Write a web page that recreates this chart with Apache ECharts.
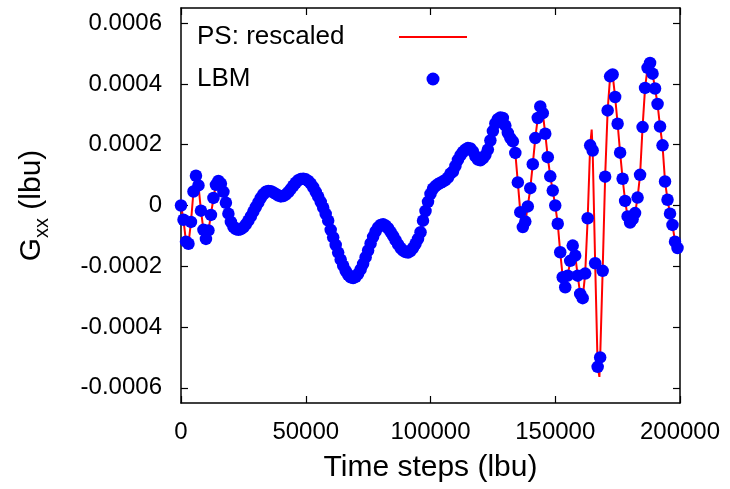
<!DOCTYPE html>
<html>
<head>
<meta charset="utf-8">
<script src="https://cdn.jsdelivr.net/npm/echarts@6/dist/echarts.min.js"></script>
<style>
html,body{margin:0;padding:0;background:#fff;}
#c{width:730px;height:489px;}
</style>
</head>
<body>
<div id="c"></div>
<script>
// LBM samples: one every 1000 time steps, from 0 to 199000; values in units of 1e-4 lbu
const lbmStep = 1000;
const lbmG_e4 = [
  0, -0.47, -1.19, -1.26, -0.54, 0.46, 0.98, 0.66, -0.17, -0.80,
  -1.10, -0.82, -0.31, 0.25, 0.68, 0.81, 0.72, 0.45, 0.09, -0.27,
  -0.54, -0.70, -0.78, -0.80, -0.78, -0.72, -0.62, -0.50, -0.36, -0.20,
  -0.05, 0.10, 0.25, 0.37, 0.45, 0.48, 0.47, 0.43, 0.38, 0.33,
  0.30, 0.31, 0.36, 0.44, 0.54, 0.65, 0.75, 0.83, 0.87, 0.88,
  0.86, 0.81, 0.72, 0.60, 0.45, 0.29, 0.12, -0.07, -0.28, -0.50,
  -0.80, -1.05, -1.30, -1.55, -1.78, -1.98, -2.15, -2.28, -2.36, -2.39,
  -2.35, -2.25, -2.10, -1.92, -1.70, -1.48, -1.25, -1.03, -0.85, -0.72,
  -0.64, -0.62, -0.66, -0.75, -0.87, -1.00, -1.14, -1.28, -1.40, -1.48,
  -1.53, -1.55, -1.50, -1.40, -1.26, -1.10, -0.88, -0.50, -0.18, 0.12,
  0.38, 0.55, 0.64, 0.70, 0.75, 0.79, 0.84, 0.92, 1.05, 1.12,
  1.30, 1.50, 1.65, 1.76, 1.84, 1.89, 1.88, 1.78, 1.62, 1.51,
  1.49, 1.55, 1.66, 1.84, 2.14, 2.45, 2.70, 2.84, 2.90, 2.88,
  2.63, 2.39, 2.22, 2.11, 1.73, 0.76, -0.22, -0.71, -0.53, -0.03,
  0.57, 1.36, 2.22, 2.88, 3.26, 3.04, 2.36, 1.59, 0.96, 0.49,
  0, -0.60, -1.54, -2.36, -2.69, -2.31, -1.82, -1.32, -1.65, -2.31,
  -2.91, -3.05, -2.24, -0.42, 1.98, 1.81, -1.90, -5.31, -5.00, -2.15,
  0.95, 3.13, 4.25, 4.31, 3.57, 2.69, 1.74, 0.88, 0.15, -0.36,
  -0.56, -0.45, -0.25, 0.26, 1.01, 2.58, 3.87, 4.53, 4.69, 4.34,
  3.85, 3.34, 2.60, 1.98, 0.79, 0.19, -0.27, -0.64, -1.19, -1.40
];
// PS curve: passes through the LBM samples, plus these extra resolved points
const psExtraT = [164600, 167700, 200000];
const psExtraG_e4 = [2.50, -5.64, -1.50];

const xTicks = [0, 50000, 100000, 150000, 200000];
const yTicks = [-0.0006, -0.0004, -0.0002, 0, 0.0002, 0.0004, 0.0006];
const legendNames = ['PS: rescaled', 'LBM'];

const E4 = 1e-4;
const lbmData = lbmG_e4.map((v, i) => [i * lbmStep, v * E4]);
const psData = lbmData.slice();
psExtraT.forEach((t, i) => psData.push([t, psExtraG_e4[i] * E4]));
psData.sort((a, b) => a[0] - b[0]);

const FONT = '"Liberation Sans", Arial, Helvetica, sans-serif';
const fmtY = v => Math.abs(v) < 1e-12 ? '0' : v.toFixed(4);
const fmtX = v => String(Math.round(v));

const chart = echarts.init(document.getElementById('c'), null, {renderer: 'canvas'});
const axisLine = {show: true, onZero: false, lineStyle: {color: '#000', width: 1.5}};
const tick = {show: true, inside: true, length: 7, lineStyle: {color: '#000', width: 1.2}};

chart.setOption({
  animation: false,
  backgroundColor: '#fff',
  textStyle: {fontFamily: FONT},
  grid: {left: 181, right: 50, top: 8, bottom: 86, containLabel: false},
  legend: {
    orient: 'vertical', left: 192, top: 18, itemGap: 14,
    align: 'right', itemWidth: 68, itemHeight: 13,
    data: [
      {name: legendNames[0], itemStyle: {opacity: 0}, lineStyle: {color: '#ff0000', width: 2, opacity: 1}},
      {name: legendNames[1]}
    ],
    formatter: n => '{t|' + n + '}',
    textStyle: {
      fontSize: 26, color: '#000', fontFamily: FONT, lineHeight: 28,
      rich: {t: {fontSize: 26, width: 197, align: 'left', color: '#000', fontFamily: FONT, lineHeight: 28}}
    }
  },
  xAxis: [{
    type: 'value', min: xTicks[0], max: xTicks[xTicks.length - 1], interval: 50000,
    position: 'bottom',
    axisLine: axisLine, axisTick: tick, splitLine: {show: false},
    axisLabel: {fontSize: 24, color: '#000', margin: 17, fontFamily: FONT, formatter: fmtX},
    name: 'Time steps (lbu)', nameLocation: 'middle', nameGap: 50,
    nameTextStyle: {fontSize: 30, color: '#000', fontFamily: FONT}
  }, {
    type: 'value', min: xTicks[0], max: xTicks[xTicks.length - 1], interval: 50000,
    position: 'top',
    axisLine: axisLine, axisTick: tick, splitLine: {show: false},
    axisLabel: {show: false}
  }],
  yAxis: [{
    type: 'value', min: -0.00065, max: 0.00065,
    position: 'left',
    axisLine: axisLine,
    axisTick: Object.assign({customValues: yTicks}, tick),
    splitLine: {show: false},
    axisLabel: {customValues: yTicks, formatter: fmtY, fontSize: 24, color: '#000', margin: 19, fontFamily: FONT},
    name: '{a|G}{s|xx}{a| (lbu)}', nameLocation: 'middle', nameGap: 129,
    nameTextStyle: {
      color: '#000', fontFamily: FONT,
      rich: {
        a: {fontSize: 30, lineHeight: 40, verticalAlign: 'middle', color: '#000', fontFamily: FONT},
        s: {fontSize: 20, lineHeight: 20, verticalAlign: 'bottom', color: '#000', fontFamily: FONT}
      }
    }
  }, {
    type: 'value', min: -0.00065, max: 0.00065,
    position: 'right',
    axisLine: axisLine,
    axisTick: Object.assign({customValues: yTicks}, tick),
    splitLine: {show: false},
    axisLabel: {show: false}
  }],
  series: [{
    name: legendNames[0], type: 'line', data: psData,
    xAxisIndex: 0, yAxisIndex: 0,
    symbol: 'none', lineStyle: {color: '#ff0000', width: 2}, itemStyle: {color: '#ff0000'},
    z: 2
  }, {
    name: legendNames[1], type: 'scatter', data: lbmData,
    xAxisIndex: 0, yAxisIndex: 0,
    symbol: 'circle', symbolSize: 12.5, itemStyle: {color: '#0000ff', opacity: 1},
    z: 3
  }]
});
</script>
</body>
</html>
